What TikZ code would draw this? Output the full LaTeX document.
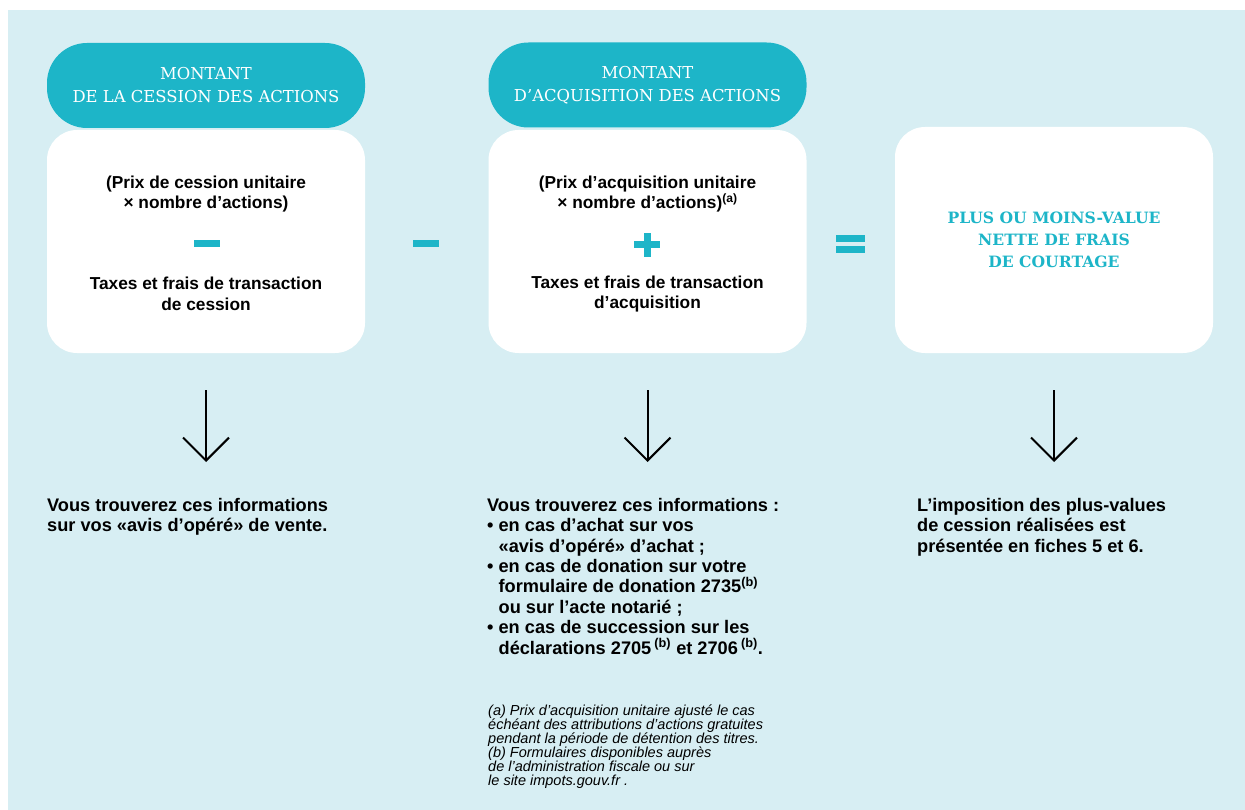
\documentclass[tikz,border=0pt]{standalone}
\usepackage{fontspec}
\setmainfont{Liberation Sans}
\newfontfamily\slabfont{DejaVu Serif}
\usetikzlibrary{arrows.meta, positioning}

\definecolor{headcol}{RGB}{29,181,200}
\definecolor{bgcol}{RGB}{215,238,243}

\tikzset{
    head/.style={fill=headcol, rounded corners=40pt, minimum width=318pt, minimum height=85pt,
        inner sep=0pt, text=white, align=center, font=\slabfont\fontsize{16.4}{23}\selectfont},
    card/.style={fill=white, rounded corners=30pt, minimum width=318pt, minimum height=223pt, inner sep=0pt},
    body/.style={align=center, inner sep=0pt, font=\bfseries\fontsize{17.3}{20.4}\selectfont},
    info/.style={align=left, anchor=north west, inner sep=0pt, font=\bfseries\fontsize{18.2}{20.4}\selectfont},
    note/.style={align=left, anchor=north west, inner sep=0pt, font=\itshape\fontsize{14.5}{14}\selectfont},
    opbar/.style={fill=headcol, inner sep=0pt, minimum width=26pt, minimum height=7pt},
    downarrow/.style={line width=2pt, -{Straight Barb[length=23pt, width=46pt]},
        shorten <=37pt, shorten >=36pt},
}

\begin{document}
\begin{tikzpicture}[x=1pt, y=-1pt]
    % background
    \fill[white] (0, 0) rectangle (1245, 810);
    \fill[bgcol] (8, 10) rectangle (1245, 810);

    % headers and cards
    \node[head] (head1) at (206, 85.5) {MONTANT\\DE LA CESSION DES ACTIONS};
    \node[head] (head2) at (647.5, 85) {MONTANT\\D’ACQUISITION DES ACTIONS};
    \node[card] (box1) at (206, 241.5) {};
    \node[card] (box2) at (647.5, 241.5) {};
    \node[card, minimum height=226pt] (box3) at (1054, 240) {};

    % contents of the cards
    \node[body] (top1) at (206, 194) {(Prix de cession unitaire\\× nombre d’actions)};
    \node[opbar] (sub1) at (207, 243.5) {};
    \node[body] (bot1) at (206, 294) {Taxes et frais de transaction\\de cession};

    \node[body] (top2) at (647.5, 194) {(Prix d’acquisition unitaire\\× nombre d’actions)\textsuperscript{(a)}};
    \node[opbar] (add2) at (647, 245) {};
    \node[opbar, minimum width=7pt, minimum height=24pt] at (add2) {};
    \node[body] (bot2) at (647.5, 294) {Taxes et frais de transaction\\d’acquisition};

    \node[align=center, text=headcol, inner sep=0pt,
        font=\slabfont\bfseries\fontsize{15.6}{22}\selectfont] (res3) at (1054, 240)
        {PLUS OU MOINS-VALUE\\NETTE DE FRAIS\\DE COURTAGE};

    % operators between the cards
    \node[opbar] (minus12) at (426, 243.5) {};
    \node[opbar, minimum width=29pt] (eqA) at (850.5, 238.5) {};
    \node[opbar, minimum width=29pt] (eqB) at (850.5, 249.5) {};

    % texts below
    \node[info] (info1) at (47, 498) {Vous trouverez ces informations\\sur vos «avis d’opéré» de vente.};
    \node[info] (info2) at (487, 498) {Vous trouverez ces informations :\\
        • en cas d’achat sur vos\\
        \phantom{• }«avis d’opéré» d’achat ;\\
        • en cas de donation sur votre\\
        \phantom{• }formulaire de donation 2735\textsuperscript{(b)}\\
        \phantom{• }ou sur l’acte notarié ;\\
        • en cas de succession sur les\\
        \phantom{• }déclarations 2705\,\textsuperscript{(b)} et 2706\,\textsuperscript{(b)}.};
    \node[note] (notes) at (488, 705) {(a) Prix d’acquisition unitaire ajusté le cas\\
        échéant des attributions d’actions gratuites\\
        pendant la période de détention des titres.\\
        (b) Formulaires disponibles auprès\\
        de l’administration fiscale ou sur\\
        le site impots.gouv.fr .};
    \node[info] (info3) at (917, 498) {L’imposition des plus-values\\de cession réalisées est\\présentée en fiches 5 et 6.};

    % arrows
    \draw[downarrow] (box1.south) -- (box1.south |- info1.north);
    \draw[downarrow] (box2.south) -- (box2.south |- info2.north);
    \draw[downarrow] (box3.south) -- (box3.south |- info3.north);
\end{tikzpicture}
\end{document}
